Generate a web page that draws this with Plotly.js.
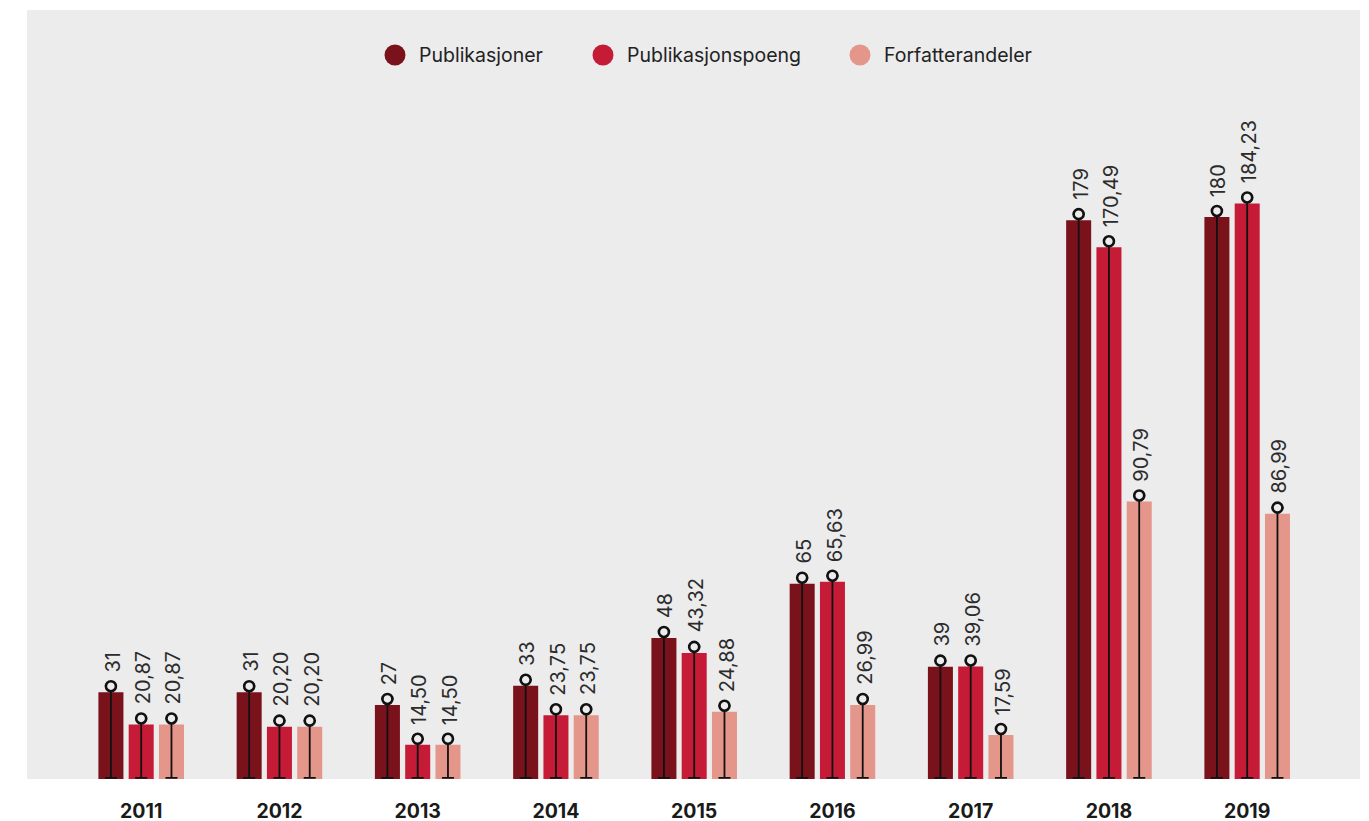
<!DOCTYPE html>
<html>
<head>
<meta charset="utf-8">
<script src="https://cdn.plot.ly/plotly-3.0.1.min.js"></script>
<style>html,body{margin:0;padding:0;background:#fff}#chart{width:1369px;height:821px}</style>
</head>
<body>
<div id="chart"></div>
<script>
// ---- data ----
const years = ['2011','2012','2013','2014','2015','2016','2017','2018','2019'];
const seriesNames = ['Publikasjoner','Publikasjonspoeng','Forfatterandeler'];
const publikasjoner = [31, 31, 27, 33, 48, 65, 39, 179, 180];
const publikasjonspoeng = [20.87, 20.20, 14.50, 23.75, 43.32, 65.63, 39.06, 170.49, 184.23];
const forfatterandeler = [20.87, 20.20, 14.50, 23.75, 24.88, 26.99, 17.59, 90.79, 86.99];
const decimals = [0, 2, 2];

// ---- style ----
const colors = ['#7a121c', '#c61b36', '#e4968b'];
const bg = '#ececec';
const FONT = 'Inter, Roboto, "Open Sans", sans-serif';
const seriesValues = [publikasjoner, publikasjonspoeng, forfatterandeler];
const offsets = [-0.219, 0, 0.219];
const barWidth = 0.181;
const yMin = 3.8, yMax = 244.9;
const circleLift = 1.9;

const fmt = (v, d) => v.toFixed(d).replace('.', ',');
const idx = years.map((_, i) => i);

const traces = [];
seriesValues.forEach((vals, s) => {
  traces.push({
    type: 'bar',
    name: seriesNames[s],
    x: idx.map(i => i + offsets[s]),
    y: vals,
    width: barWidth,
    marker: {color: colors[s], line: {width: 0}},
    showlegend: false,
    hoverinfo: 'skip'
  });
});
seriesValues.forEach((vals, s) => {
  const cy = vals.map(v => v + circleLift);
  traces.push({
    type: 'scatter',
    mode: 'markers',
    x: idx.map(i => i + offsets[s]),
    y: cy,
    marker: {symbol: 'circle', size: 10, color: bg, line: {color: '#111', width: 2.6}},
    error_y: {type: 'data', symmetric: false, array: cy.map(() => 0),
              arrayminus: cy.map(c => c - (yMin + 0.35)), color: '#111', thickness: 1.8, width: 6},
    showlegend: false,
    hoverinfo: 'skip'
  });
});

const annotations = [];
seriesValues.forEach((vals, s) => {
  vals.forEach((v, i) => {
    annotations.push({
      x: i + offsets[s], y: v + circleLift, xref: 'x', yref: 'y',
      text: fmt(v, decimals[s]), textangle: -90, showarrow: false,
      xanchor: 'center', yanchor: 'bottom', yshift: 12, xshift: 2,
      font: {family: FONT, size: 20, color: '#2b2b2b'}
    });
  });
});

// custom legend (pixel positions)
const L = 27, R = 1360, T = 10, B = 779;
const px = x => (x - L) / (R - L);
const py = y => (B - y) / (B - T);
const legendCx = [395, 603, 860];
const legendY = 55;
const shapes = [];
seriesNames.forEach((n, s) => {
  shapes.push({type: 'circle', xref: 'paper', yref: 'paper', xsizemode: 'pixel', ysizemode: 'pixel',
    xanchor: px(legendCx[s]), yanchor: py(legendY), x0: -10.5, x1: 10.5, y0: -10.5, y1: 10.5,
    fillcolor: colors[s], line: {width: 0}});
  annotations.push({xref: 'paper', yref: 'paper', x: px(legendCx[s] + 22), y: py(legendY),
    xanchor: 'left', yanchor: 'middle', showarrow: false, text: n,
    font: {family: FONT, size: 19.5, color: '#222'}});
});

const layout = {
  width: 1369, height: 821,
  margin: {l: L, r: 1369 - R, t: T, b: 821 - B, pad: 0},
  paper_bgcolor: '#ffffff',
  plot_bgcolor: bg,
  barmode: 'overlay',
  showlegend: false,
  xaxis: {range: [-0.826, 8.816], tickmode: 'array', tickvals: idx, ticktext: years,
    showgrid: false, zeroline: false, showline: false, ticks: '', ticklabelstandoff: 18,
    tickfont: {family: FONT, size: 19.5, weight: 700, color: '#1a1a1a'}, fixedrange: true},
  yaxis: {range: [yMin, yMax], showgrid: false, zeroline: false, showline: false,
    showticklabels: false, ticks: '', fixedrange: true},
  annotations: annotations,
  shapes: shapes,
  font: {family: FONT}
};

Plotly.newPlot('chart', traces, layout, {displayModeBar: false, staticPlot: true});
</script>
</body>
</html>
